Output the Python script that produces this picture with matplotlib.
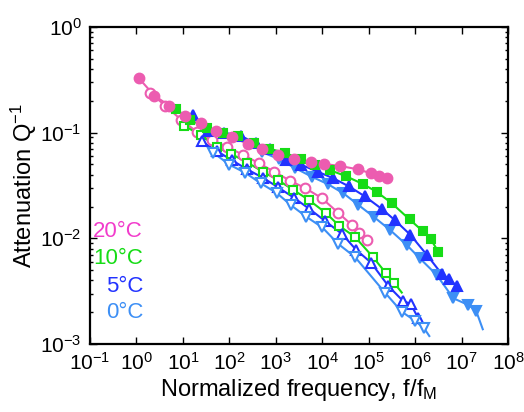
"""
Attenuation Q^-1 versus normalized frequency f/f_M at four temperatures.
Filled and open symbols are the two data sets per temperature.
"""

import matplotlib
matplotlib.use("Agg")

import numpy as np
import matplotlib.pyplot as plt

plt.rcParams['font.family'] = ['Liberation Sans', 'DejaVu Sans']
plt.rcParams['mathtext.fontset'] = 'custom'
plt.rcParams['mathtext.rm'] = 'Liberation Sans'
plt.rcParams['mathtext.it'] = 'Liberation Sans'
plt.rcParams['mathtext.default'] = 'regular'

# -----------------------------------------------------------------------------
# Data
# -----------------------------------------------------------------------------
# 20 C
f20_fill = [1.13, 2.43, 5.1, 11.3, 24.2, 51.7, 112, 249, 513, 1135, 2470,
            5740, 1.11e4, 2.42e4, 5.81e4, 1.11e5, 1.67e5, 2.45e5]
q20_fill = [0.327, 0.224, 0.180, 0.144, 0.123, 0.1037, 0.0916, 0.0781, 0.0696,
            0.0615, 0.0560, 0.0531, 0.0505, 0.0484, 0.0450, 0.0413, 0.0392, 0.0375]
f20_open = [1.96, 4.18, 9.25, 19.9, 42.4, 90.5, 200, 436, 916, 2030, 4330,
            9660, 2.19e4, 4.32e4, 6.3e4, 9.08e4]
q20_open = [0.239, 0.180, 0.132, 0.102, 0.0853, 0.0732, 0.0615, 0.0513, 0.0428,
            0.0351, 0.0298, 0.0241, 0.0175, 0.0134, 0.0112, 0.00964]

# 10 C
f10_fill = [7.1, 14.2, 32.6, 73.1, 150, 332, 715, 1580, 3410, 7100, 1.44e4,
            3.17e4, 7.45e4, 1.48e5, 3.14e5, 7.59e5, 1.46e6, 2.17e6, 3.16e6]
q10_fill = [0.168, 0.132, 0.111, 0.0982, 0.0920, 0.0807, 0.0708, 0.0642, 0.0564,
            0.0495, 0.0443, 0.0389, 0.0327, 0.0276, 0.0215, 0.0151, 0.0117,
            0.00979, 0.00748]
f10_open = [10.7, 24.2, 53.0, 111, 244, 518, 1100, 2390, 5140, 1.21e4, 2.34e4,
            5.08e4, 1.22e5, 2.37e5, 3.52e5]
q10_open = [0.116, 0.0951, 0.0732, 0.0628, 0.0522, 0.0429, 0.0357, 0.0287,
            0.0231, 0.0173, 0.0131, 0.0103, 0.0067, 0.00467, 0.0038]

# 5 C
f5_fill = [16.9, 34.8, 76.8, 176, 376, 752, 1660, 3490, 8240, 1.73e4, 3.72e4,
           8.22e4, 1.91e5, 3.70e5, 7.89e5, 1.83e6, 3.74e6, 5.46e6, 8.0e6]
q5_fill = [0.147, 0.104, 0.100, 0.093, 0.0793, 0.0696, 0.0551, 0.0498, 0.0425,
           0.0370, 0.0311, 0.0250, 0.0190, 0.0148, 0.0108, 0.00689, 0.0046,
           0.00409, 0.00352]
f5_open = [25.4, 53.5, 112, 240, 524, 1135, 2430, 5270, 1.15e4, 2.67e4, 5.34e4,
           1.12e5, 2.65e5, 5.41e5, 8.05e5, 1.17e6]
q5_open = [0.0825, 0.0671, 0.0551, 0.045, 0.0375, 0.0303, 0.0243, 0.0190,
           0.0146, 0.0110, 0.0078, 0.0059, 0.00354, 0.00257, 0.00239, 0.00175]

# 0 C
f0_fill = [506, 1150, 2600, 5940, 1.30e4, 2.85e4, 5.99e4, 1.28e5, 2.88e5,
           6.6e5, 1.26e6, 2.92e6, 6.65e6, 1.40e7, 2.05e7]
q0_fill = [0.0656, 0.0563, 0.0463, 0.0383, 0.0327, 0.0267, 0.0207, 0.016,
           0.012, 0.00865, 0.00647, 0.0045, 0.00271, 0.00234, 0.00207]
f0_open = [45.2, 100, 218, 474, 1040, 2150, 4550, 1.0e4, 2.22e4, 5.08e4,
           2.25e5, 5.15e5, 9.96e5, 1.56e6]
q0_open = [0.0646, 0.0498, 0.0418, 0.0332, 0.0269, 0.0205, 0.016, 0.0127,
           0.00884, 0.00665, 0.00306, 0.00202, 0.00166, 0.00141]

# where the drawn curves run on past the last symbol
tail = {
    "10_open": (5.15e5, 0.00307),
    "0_fill": (2.86e7, 0.00138),
    "0_open": (2.02e6, 0.00119),
}

legend_labels = ["20°C", "10°C", "5°C", "0°C"]

# -----------------------------------------------------------------------------
# Styles
# -----------------------------------------------------------------------------
c20 = "#ec5cb0"
c10 = "#16dc16"
c5 = "#2233ff"
c0 = "#3d8ff5"
legend_colors = ["#f23ccc", "#16dc16", "#2233ff", "#3d8ff5"]

series = [
    # key, f, q, colour, marker, filled
    ("20_open", f20_open, q20_open, c20, "o", False),
    ("10_open", f10_open, q10_open, c10, "s", False),
    ("5_open", f5_open, q5_open, c5, "^", False),
    ("0_open", f0_open, q0_open, c0, "v", False),
    ("0_fill", f0_fill, q0_fill, c0, "v", True),
    ("5_fill", f5_fill, q5_fill, c5, "^", True),
    ("10_fill", f10_fill, q10_fill, c10, "s", True),
    ("20_fill", f20_fill, q20_fill, c20, "o", True),
]

marker_size = {"o": 7, "s": 6, "^": 7.5, "v": 7.5}

# -----------------------------------------------------------------------------
# Plot
# -----------------------------------------------------------------------------
fig = plt.figure(figsize=(5.24, 4.12), dpi=100)
ax = fig.add_axes([0.1718, 0.165, 0.7977, 0.7695])

for key, f, q, col, mk, filled in series:
    lx, ly = list(f), list(q)
    if key in tail:
        lx.append(tail[key][0])
        ly.append(tail[key][1])
    ax.plot(lx, ly, '-', color=col, lw=1.5, zorder=2)
    ax.plot(f, q, linestyle='none', marker=mk, ms=marker_size[mk],
            mfc=col if filled else 'white', mec=col, mew=1.5, zorder=3)

ax.set_xscale('log')
ax.set_yscale('log')
ax.set_xlim(1e-1, 1e8)
ax.set_ylim(1e-3, 1e0)
ax.set_xticks([10.0 ** k for k in range(-1, 9)])
ax.set_yticks([10.0 ** k for k in range(-3, 1)])

ax.tick_params(which='both', direction='in', top=True, right=True,
               labelsize=15, width=1, colors='black')
ax.tick_params(which='major', length=5, pad=6)
ax.tick_params(which='minor', length=2.5)
for s in ax.spines.values():
    s.set_linewidth(1.6)

ax.set_xlabel("Normalized frequency, f/f$_\\mathrm{M}$", fontsize=17, labelpad=2)
ax.set_ylabel("Attenuation Q$^{-1}$", fontsize=17, labelpad=1)

# coloured text legend
leg_y = [0.354, 0.271, 0.181, 0.098]
for lab, col, yy in zip(legend_labels, legend_colors, leg_y):
    ax.text(0.127, yy, lab, color=col, fontsize=16, ha='right', va='center',
            transform=ax.transAxes)

fig.savefig("out.png", dpi=100)
